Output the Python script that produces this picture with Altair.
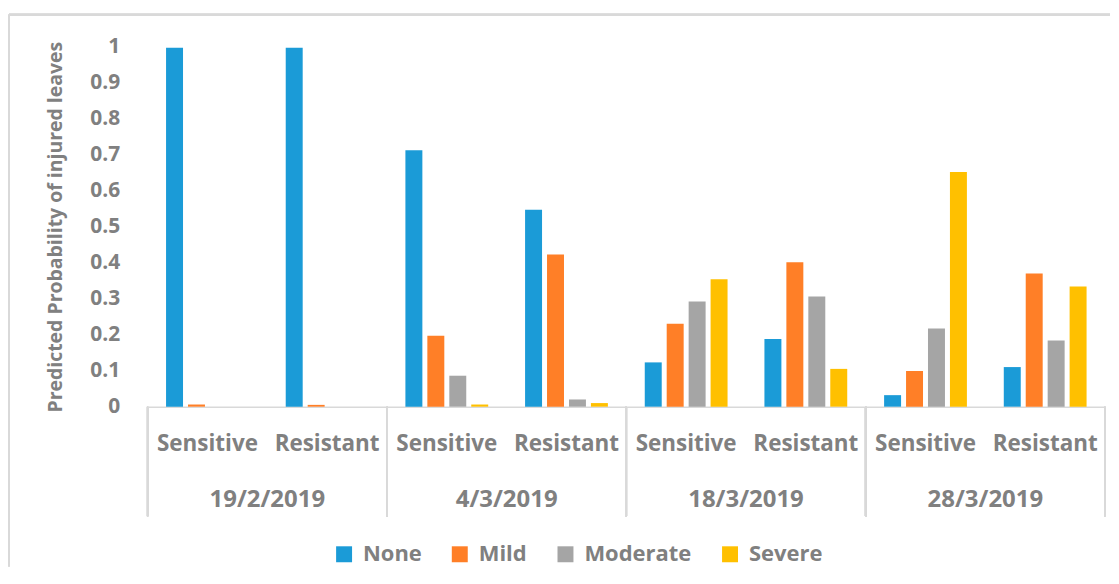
import altair as alt
import pandas as pd

dates = ["19/2/2019", "4/3/2019", "18/3/2019", "28/3/2019"]
cultivars = ["Sensitive", "Resistant"]
severities = ["None", "Mild", "Moderate", "Severe"]

# values per (date, cultivar), in severity order None, Mild, Moderate, Severe
none_vals     = [0.997, 0.997, 0.712, 0.547, 0.123, 0.188, 0.032, 0.110]
mild_vals     = [0.006, 0.005, 0.197, 0.423, 0.230, 0.401, 0.099, 0.370]
moderate_vals = [0.000, 0.000, 0.086, 0.020, 0.292, 0.306, 0.217, 0.184]
severe_vals   = [0.000, 0.000, 0.006, 0.010, 0.354, 0.105, 0.652, 0.334]

colors = ["#1B9BD7", "#FF7F27", "#A5A5A5", "#FFC000"]

rows = []
series = [none_vals, mild_vals, moderate_vals, severe_vals]
i = 0
for d in dates:
    for c in cultivars:
        for s, vals in zip(severities, series):
            rows.append({"date": d, "cultivar": c, "severity": s, "value": vals[i]})
        i += 1
df = pd.DataFrame(rows)

FONT = "Open Sans"
TXT = "#808080"
PW, PH = 240, 361

bars = alt.Chart().mark_bar().encode(
    x=alt.X("cultivar:N", sort=cultivars,
            scale=alt.Scale(paddingInner=0, paddingOuter=0),
            axis=alt.Axis(title=None, labelAngle=0, ticks=False, tickSize=0,
                          domainColor="#d9d9d9", domainWidth=1.5,
                          labelFont=FONT, labelFontWeight="bold", labelFontSize=22.5,
                          labelColor=TXT, labelPadding=26)),
    xOffset=alt.XOffset("severity:N", sort=severities,
                        scale=alt.Scale(paddingInner=0.227, paddingOuter=0.84)),
    y=alt.Y("value:Q", scale=alt.Scale(domain=[0, 1]),
            axis=alt.Axis(title="Predicted Probability of injured leaves",
                          values=[0, 0.1, 0.2, 0.3, 0.4, 0.5, 0.6, 0.7, 0.8, 0.9, 1],
                          format="~g", grid=False, domain=False, ticks=False, tickSize=0,
                          labelFont=FONT, labelFontWeight="bold", labelFontSize=21,
                          labelColor=TXT, labelPadding=28,
                          titleFont=FONT, titleFontWeight="bold", titleFontSize=19.5,
                          titleColor=TXT, titlePadding=24)),
    color=alt.Color("severity:N", sort=severities,
                    scale=alt.Scale(domain=severities, range=colors),
                    legend=alt.Legend(title=None, orient="none", direction="horizontal",
                                      legendX=186, legendY=498,
                                      symbolType="square", symbolSize=256,
                                      symbolStrokeWidth=0, labelFont=FONT,
                                      labelFontWeight="bold", labelFontSize=22,
                                      labelColor=TXT, columnPadding=27, labelOffset=8)),
)

left_rule = alt.Chart().mark_rule(color="#d9d9d9", strokeWidth=1.5).encode(
    x=alt.value(0), y=alt.value(PH), y2=alt.value(PH + 110))
right_rule = alt.Chart().mark_rule(color="#d9d9d9", strokeWidth=1.5).encode(
    x=alt.value(PW), y=alt.value(PH), y2=alt.value(PH + 110))

# faint outer chart-area border (drawn once, from the first panel)
border_left = alt.Chart().transform_filter(alt.datum.date == dates[0]).mark_rule(
    color="#d9d9d9", strokeWidth=2).encode(
    x=alt.value(-139), y=alt.value(-32), y2=alt.value(PH + 160))
border_top = alt.Chart().transform_filter(alt.datum.date == dates[0]).mark_rule(
    color="#d9d9d9", strokeWidth=2).encode(
    x=alt.value(-139), x2=alt.value(4 * PW + 5), y=alt.value(-32))

chart = alt.layer(bars, left_rule, right_rule, border_left, border_top, data=df).properties(
    width=PW, height=PH
).facet(
    column=alt.Column("date:N", sort=dates, title=None,
                      header=alt.Header(labelOrient="bottom", labelFont=FONT,
                                        labelFontWeight="bold", labelFontSize=24,
                                        labelColor=TXT, labelPadding=33))
).properties(
    spacing=0, bounds="flush",
    padding={"left": 0, "top": 5, "right": 0, "bottom": 0}
).configure_view(stroke=None)

chart.save("out.html", embed_options={"renderer": "svg", "actions": False})
